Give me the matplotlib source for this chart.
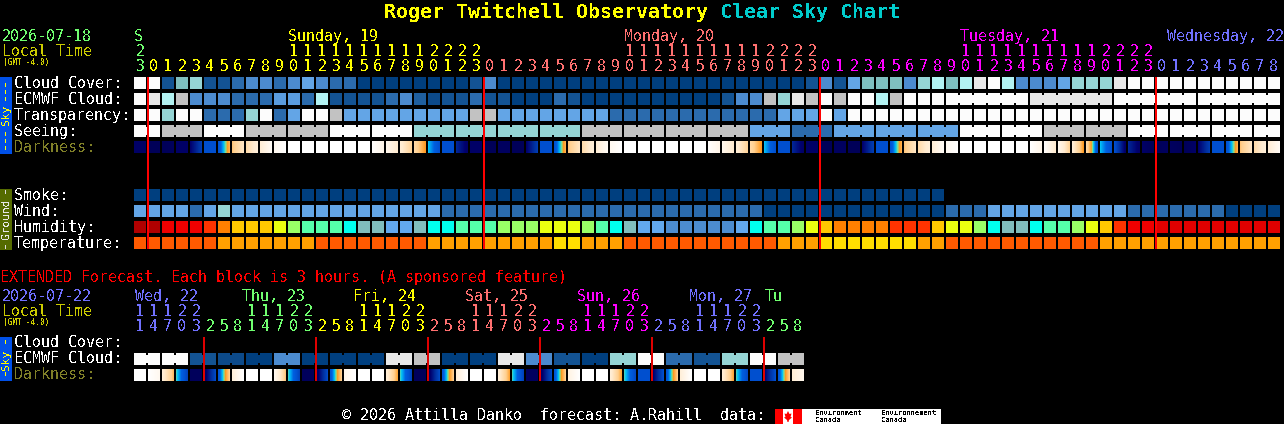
import numpy as np
import matplotlib
matplotlib.use("Agg")
import matplotlib.pyplot as plt
from matplotlib.colors import LinearSegmentedColormap, to_rgb
from matplotlib.patches import Rectangle, Polygon

plt.rcParams['font.family'] = ['DejaVu Sans Mono']
plt.rcParams['text.antialiased'] = False

# ---------- data (cloud-style scale: 0 clear ... 100 overcast) ----------
cloud_cover = [0,0,90,50,40,90,90,80,70,70,80,70,60,70,80,80,100,100,100,100,100,100,100,100,90,70,
               100,100,100,100,100,100,100,100,100,100,100,100,100,100,100,100,100,100,100,100,100,100,90,70,90,60,
               50,50,50,70,40,30,50,30,10,0,30,70,70,70,60,40,40,40,10,0,0,0,0,0,0,0,0,0,0,0]
ecmwf_cloud = [0,10,30,20,70,70,70,80,80,80,65,65,80,30,90,90,90,90,80,70,85,
               95,90,90,80,90,90,100,100,100,80,90,100,100,100,100,100,100,100,100,100,100,90,70,70,20,40,10,20,0,20,0,
               0,30,20,0,0,0,0,0,0,0,0,0,10,10,10,10,10,10,0,0,0,0,0,0,0,0,0,0,0,0]
transparency = [0,0,40,0,0,80,80,80,40,0,80,60,0,0,20,60,60,60,60,60,60,60,60,60,20,20,
                60,60,60,60,60,60,60,60,80,80,80,80,80,80,80,80,80,80,80,80,60,60,60,0,60,0]+[0]*30
seeing = [0,0,20,20,20,0,0,0,20,20,20,20,20,20,0,0,0,0,0,0,40,40,40,40,40,40,40,40,40,40,40,40,
          20,20,20,20,20,20,20,20,20,20,20,20,60,60,60,80,80,80,60,60,60,60,60,60,60,60,60,
          0,0,0,0,0,0,20,20,20,20,20,20,0,0,0,0,0,0,0,0,0,0,0]
seeing_groups = [2]+[3]*26+[2]
ecmwf_merge_start = 58
smoke = [100]*58
wind = [60,60,60,60,80,60,40]+[60]*15+[80]*23+[100]*13+[80]*3+[60]*10+[80]*7+[100]*4
humidity = [0,0,2,2,2,3,4,5,5,5,6,7,8,8,8,9,10,10,11,11,10,
            9,9,8,8,8,7,7,7,6,6,6,7,8,9,10,11,11,12,12,12,12,12,11,9,8,8,7,6,5,4,4,
            4,4,3,3,3,5,6,6,7,9,10,10,9,8,8,7,6,5,3,2,2]+[1]*9
temperature = [0,0,0,0,0,0,1,1,1,1,1,1,1,0,0,0,0,0,0,0,0,
               1,1,1,1,1,1,1,1,1,2,2,1,1,1,0,0,0,0,0,0,0,0,0,0,0,1,1,1,2,2,2,
               2,2,2,2,1,1,0,0,0,0,0,0,0,0,0,0,0]+[1]*13
darkness_start = [8,4,4,8,10,30,31,58,66,78,92,100,100,100,100,100,100,98,90,78,65,42,30,18,8,4,6,4,10,30,31,58,
                  66,78,92,100,100,100,100,100,100,98,90,78,65,42,30,18,8,4,6,4,10,30,31,58,66,78,92,100,100,100,100,100,
                  100,98,90,78,65,42,30,18,8,4,6,4,10,30,31,58,66,78]
darkness_end   = [8,4,5,8,24,30,54,72,80,95,100,100,100,100,100,100,100,88,75,62,50,30,30,8,8,4,6,4,24,30,54,72,
                  80,95,100,100,100,100,100,100,100,88,75,62,50,30,30,8,8,4,6,4,24,30,54,72,80,95,100,100,100,100,100,100,
                  88,75,62,50,30,30,8,8,4,6,4,8,24,30,54,72,80,95]

ext_ecmwf = [0,0,90,95,100,70,100,100,100,10,20,100,100,10,70,90,100,40,0,80,90,40,0,20]
ext_dark_start = [100,100,78,44,5,6,32,80,100,100,92,44,5,6,32,90,100,100,78,44,5,6,32,80,100,100,78,44,6,6,32,85,100,100,78,44,30,8,32,80,100,100,78,44,30,10,32,78]
ext_dark_end   = [100,92,56,26,5,28,60,100,100,100,58,26,5,28,60,100,100,100,52,26,5,28,60,100,100,100,52,26,6,28,60,100,100,100,52,28,30,30,60,100,100,100,52,28,30,30,60,90]

day_colors = {'green':'#70FF70','yellow':'#FFFF00','salmon':'#FF7070','magenta':'#FF00FF','blue':'#7070FF'}
day_labels = [("S",134,'green'),("Sunday, 19",288,'yellow'),("Monday, 20",624,'salmon'),
              ("Tuesday, 21",960,'magenta'),("Wednesday, 22",1167,'blue')]
ext_labels = [("Wed, 22",135,'blue'),("Thu, 23",242,'green'),("Fri, 24",353,'yellow'),("Sat, 25",465,'salmon'),
              ("Sun, 26",577,'magenta'),("Mon, 27",689,'blue'),("Tu",765,'green')]
hours = [23]+list(range(24))*3+list(range(9))
ext_hours = [11,14,17,20,23,2,5,8]*6

cloud_scale = {0:'#FCFCFC',10:'#E8E8E8',20:'#C2C2C2',30:'#B2F2F2',40:'#95D5D5',50:'#7FBFBF',60:'#63A5E6',
               65:'#5A9CDE',70:'#4C8BCF',80:'#2B6BAD',85:'#1F5F9F',90:'#135393',95:'#0C4A8A',100:'#003F7F'}
hum_scale = ['#B00000','#E00000','#F00000','#FF3300','#FF8000','#FFC800','#EAFF10','#99FF66','#55FFAA','#00FFEE','#80BDBD','#62A8EE','#4C8CD0']
temp_scale = ['#FF5A00','#FFA000','#FFDE00']
dark_cmap = LinearSegmentedColormap.from_list('dark',[
    (0.00,'#00004A'),(0.10,'#00006E'),(0.20,'#0030A0'),(0.30,'#0050D0'),(0.36,'#0060E0'),(0.42,'#00C0F8'),
    (0.46,'#80E090'),(0.50,'#FF9A20'),(0.60,'#FFD090'),(0.75,'#FFEBD0'),(1.00,'#FFFFFF')],N=512)

X0=134; STEP=14; W=12; H=12
fig=plt.figure(figsize=(12.84,4.24),dpi=100,facecolor='black')
ax=fig.add_axes([0,0,1,1]); ax.set_xlim(0,1284); ax.set_ylim(424,0); ax.axis('off')

def block(i,y,c):
    ax.add_patch(Rectangle((X0+STEP*i,y),W,H,fc=c,ec='none',zorder=2))
def link(i,y,c):
    ax.add_patch(Rectangle((X0+STEP*i+W,y+2),STEP-W,H-4,fc=c,ec='none',zorder=2))
def row(vals,y,scale=cloud_scale):
    for i,v in enumerate(vals):
        block(i,y,scale[v])
def darkrow(st,en,y):
    for i,(s,e) in enumerate(zip(st,en)):
        g=dark_cmap(np.linspace(s,e,W)/100.)[None,:,:]
        ax.imshow(g,extent=(X0+STEP*i,X0+STEP*i+W,y+H,y),aspect='auto',interpolation='nearest',zorder=2)
def T(x,y,s,c='white',px=15,**k):
    ax.text(x,y+1.5,s,color=c,fontsize=px*0.72,va='center',ha=k.pop('ha','left'),zorder=4,**k)

# title
T(384,11,"Roger Twitchell Observatory",'#FFFF00',px=20,fontweight='bold')
T(720,11,"Clear Sky Chart",'#00CCCC',px=20,fontweight='bold')

# main header
T(2,35,"2026-07-18",day_colors['green'])
T(2,50,"Local Time",'#CCCC00')
T(3,61,"(GMT -4.0)",'#CCCC00',px=7.8)
for s,x,c in day_labels:
    T(x,35,s,day_colors[c])
def hcol(i):
    return 'green' if i==0 else 'yellow' if i<25 else 'salmon' if i<49 else 'magenta' if i<73 else 'blue'
for i,h in enumerate(hours):
    cx=X0+STEP*i+6
    c=day_colors[hcol(i)]
    T(cx,65,str(h%10),c,ha='center')
    if h>=10:
        T(cx,50,str(h//10),c,ha='center')

# main rows
labels=[("Cloud Cover:",82,'white'),("ECMWF Cloud:",98,'white'),("Transparency:",114,'white'),("Seeing:",130,'white'),
        ("Darkness:",146,'#808028'),("Smoke:",194,'white'),("Wind:",210,'white'),("Humidity:",226,'white'),("Temperature:",242,'white')]
for s,y,c in labels:
    T(14,y,s,c)
row(cloud_cover,77)
row(ecmwf_cloud,93)
for i in range(ecmwf_merge_start,len(ecmwf_cloud)-1):
    if (i-ecmwf_merge_start)%6!=5 and ecmwf_cloud[i]==ecmwf_cloud[i+1]:
        link(i,93,cloud_scale[ecmwf_cloud[i]])
row(transparency,109)
row(seeing,125)
p=0
for n in seeing_groups:
    for i in range(p,p+n-1):
        link(i,125,cloud_scale[seeing[i]])
    p+=n
darkrow(darkness_start,darkness_end,141)
row(smoke,189); row(wind,205)
row(humidity,221,hum_scale); row(temperature,237,temp_scale)

# red day lines
for d in range(4):
    ax.add_patch(Rectangle((X0+13+STEP*24*d,77),2,172,fc='#FF0000',ec='none',zorder=3))

# side bars
ax.add_patch(Rectangle((0,77),12,77,fc='#0050E8',ec='none',zorder=2))
ax.add_patch(Rectangle((0,189),12,61,fc='#556B00',ec='none',zorder=2))
ax.add_patch(Rectangle((0,337),12,44,fc='#0050E8',ec='none',zorder=2))
def dashes(ys,c):
    for y0,y1 in ys:
        for y in np.arange(y0,y1,7):
            ax.add_patch(Rectangle((5,y),1,4,fc=c,ec='none',zorder=3))
dashes([(83,100),(132,149)],'#FFFF00')
dashes([(190,195),(245,248)],'#DDDDDD')
dashes([(340,345),(372,378)],'#FFFF00')
ax.text(6,115,"Sky",color='#FFFF00',fontsize=8,rotation=90,ha='center',va='center',zorder=4)
ax.text(6,219,"Ground",color='#E8E8E8',fontsize=8,rotation=90,ha='center',va='center',zorder=4)
ax.text(6,360,"Sky",color='#FFFF00',fontsize=8,rotation=90,ha='center',va='center',zorder=4)

# extended section
T(0,276,"EXTENDED Forecast. Each block is 3 hours. (A sponsored feature)",'#FF0000')
T(2,295,"2026-07-22",day_colors['blue'])
T(2,310,"Local Time",'#CCCC00')
T(3,321,"(GMT -4.0)",'#CCCC00',px=7.8)
for s,x,c in ext_labels:
    T(x,295,s,day_colors[c])
def ecol(j):
    names=['blue','green','yellow','salmon','magenta','blue','green']
    return names[0 if j<5 else (j-5)//8+1]
for j,h in enumerate(ext_hours):
    cx=X0+STEP*j+6
    c=day_colors[ecol(j)]
    T(cx,325,str(h%10),c,ha='center')
    if h>=10:
        T(cx,310,str(h//10),c,ha='center')
T(14,341,"Cloud Cover:"); T(14,357,"ECMWF Cloud:"); T(14,373,"Darkness:",'#808028')
for k,v in enumerate(ext_ecmwf):
    c=cloud_scale[v]
    block(2*k,353,c); block(2*k+1,353,c); link(2*k,353,c)
darkrow(ext_dark_start,ext_dark_end,369)
for d in range(6):
    ax.add_patch(Rectangle((203+112*d,337),2,44,fc='#E00000',ec='none',zorder=3))

# footer
T(342,414,"\u00a9 2026 Attilla Danko  forecast: A.Rahill  data:",'white')
ax.add_patch(Rectangle((775,409),166,15,fc='white',ec='none',zorder=2))
ax.add_patch(Rectangle((775,409),8,15,fc='#FF0000',ec='none',zorder=3))
ax.add_patch(Rectangle((793,409),9,15,fc='#FF0000',ec='none',zorder=3))
ax.add_patch(Polygon([(788,411),(789.5,414),(791.5,413.5),(790.5,417),(792,417.5),(789,420),(788.5,422),(787.5,422),(787,420),(784,417.5),(785.5,417),(784.5,413.5),(786.5,414)],fc='#FF0000',ec='none',zorder=3))
ax.text(815,413,"Environment",color='black',fontsize=5,va='center',zorder=4)
ax.text(815,420,"Canada",color='black',fontsize=5,va='center',zorder=4)
ax.text(881,413,"Environnement",color='black',fontsize=5,va='center',zorder=4)
ax.text(881,420,"Canada",color='black',fontsize=5,va='center',zorder=4)

ax.set_xlim(0,1284); ax.set_ylim(424,0)
fig.savefig('out.png',dpi=100,facecolor='black')
